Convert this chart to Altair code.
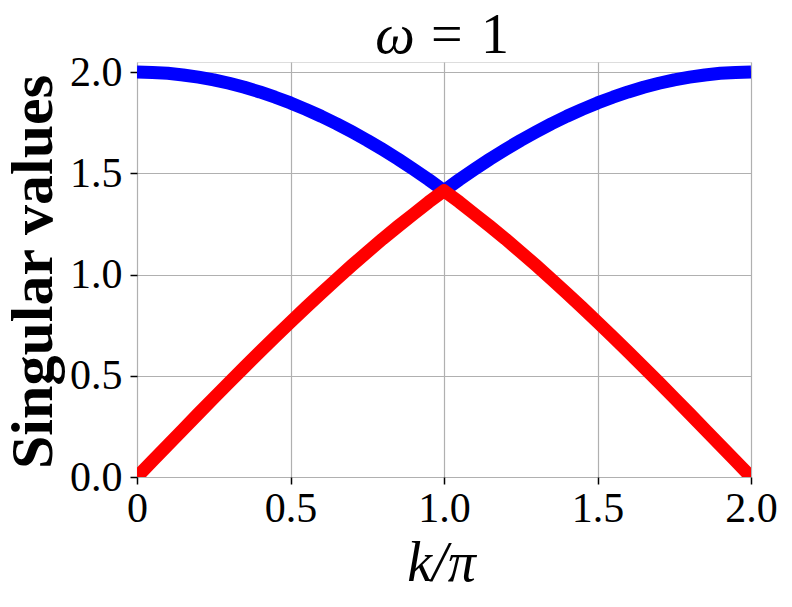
import altair as alt
import pandas as pd

k_over_pi = [0.00, 0.05, 0.10, 0.15, 0.20, 0.25, 0.30, 0.35, 0.40, 0.45, 0.50,
             0.55, 0.60, 0.65, 0.70, 0.75, 0.80, 0.85, 0.90, 0.95, 1.00,
             1.05, 1.10, 1.15, 1.20, 1.25, 1.30, 1.35, 1.40, 1.45, 1.50,
             1.55, 1.60, 1.65, 1.70, 1.75, 1.80, 1.85, 1.90, 1.95, 2.00]
upper_sv = [2.000, 1.998, 1.994, 1.986, 1.975, 1.962, 1.945, 1.925, 1.902, 1.876, 1.848,
            1.816, 1.782, 1.745, 1.705, 1.663, 1.618, 1.571, 1.521, 1.469, 1.414,
            1.469, 1.521, 1.571, 1.618, 1.663, 1.705, 1.745, 1.782, 1.816, 1.848,
            1.876, 1.902, 1.925, 1.945, 1.962, 1.975, 1.986, 1.994, 1.998, 2.000]
lower_sv = [0.000, 0.079, 0.157, 0.235, 0.313, 0.390, 0.467, 0.543, 0.618, 0.692, 0.765,
            0.837, 0.908, 0.977, 1.045, 1.111, 1.176, 1.238, 1.298, 1.358, 1.414,
            1.358, 1.298, 1.238, 1.176, 1.111, 1.045, 0.977, 0.908, 0.837, 0.765,
            0.692, 0.618, 0.543, 0.467, 0.390, 0.313, 0.235, 0.157, 0.079, 0.000]
x_ticks = [0, 0.5, 1.0, 1.5, 2.0]
y_ticks = [0, 0.5, 1.0, 1.5, 2.0]

blue_df = pd.DataFrame({"k": k_over_pi, "s": upper_sv})
red_df = pd.DataFrame({"k": k_over_pi, "s": lower_sv})

FONT = "Liberation Serif"
W, H = 614, 415

x_enc = alt.X(
    "k:Q",
    scale=alt.Scale(domain=[0, 2], nice=False, zero=False),
    axis=alt.Axis(
        values=x_ticks,
        labelExpr="datum.value == 0 ? '0' : format(datum.value, '.1f')",
        title="k/π",
        titleFont=FONT, titleFontSize=56, titleFontStyle="italic", titleFontWeight="normal",
        titleX=W / 2 - 3, titleY=103, titleBaseline="alphabetic", titleAlign="center",
        labelFont=FONT, labelFontSize=42, labelColor="black", labelPadding=4,
        labelFlush=False, labelOverlap=False,
        grid=True, gridColor="#b0b0b0", gridWidth=1.2,
        domain=False, ticks=True, tickColor="black", tickWidth=1.5, tickSize=7,
    ),
)
y_enc = alt.Y(
    "s:Q",
    scale=alt.Scale(domain=[0, 2.05], nice=False, zero=False),
    axis=alt.Axis(
        values=y_ticks, format=".1f",
        title="Singular values",
        titleFont=FONT, titleFontSize=60, titleFontWeight="bold",
        titleX=-104, titleY=H / 2 + 2, titleAngle=270, titleAlign="center", titleBaseline="middle",
        labelFont=FONT, labelFontSize=42, labelColor="black", labelPadding=8,
        labelFlush=False, labelOverlap=False,
        grid=True, gridColor="#b0b0b0", gridWidth=1.2,
        domain=False, ticks=True, tickColor="black", tickWidth=1.5, tickSize=7,
    ),
)

blue = alt.Chart(blue_df).mark_line(color="#0000ff", strokeWidth=13, strokeJoin="round", clip=True).encode(x=x_enc, y=y_enc)
red = alt.Chart(red_df).mark_line(color="#ff0000", strokeWidth=13, strokeJoin="round", clip=True).encode(x="k:Q", y="s:Q")

omega = alt.Chart(pd.DataFrame({"t": ["ω"]})).mark_text(
    font=FONT, fontSize=56, fontStyle="italic", align="center", baseline="alphabetic", color="black"
).encode(text="t:N", x=alt.value(258), y=alt.value(-9))
equals = alt.Chart(pd.DataFrame({"t": ["="]})).mark_text(
    font=FONT, fontSize=56, align="left", baseline="alphabetic", color="black"
).encode(text="t:N", x=alt.value(294), y=alt.value(-9))
one = alt.Chart(pd.DataFrame({"t": ["1"]})).mark_text(
    font=FONT, fontSize=56, align="left", baseline="alphabetic", color="black"
).encode(text="t:N", x=alt.value(344), y=alt.value(-9))

chart = alt.layer(blue, red, omega, equals, one).properties(
    width=W, height=H,
    autosize=alt.AutoSizeParams(type="none"),
    padding={"left": 129, "top": 54, "right": 33, "bottom": 122},
).configure_view(stroke="black", strokeWidth=1.5).configure(background="white")

chart.save("out.html", embed_options={"renderer": "svg", "actions": False})
